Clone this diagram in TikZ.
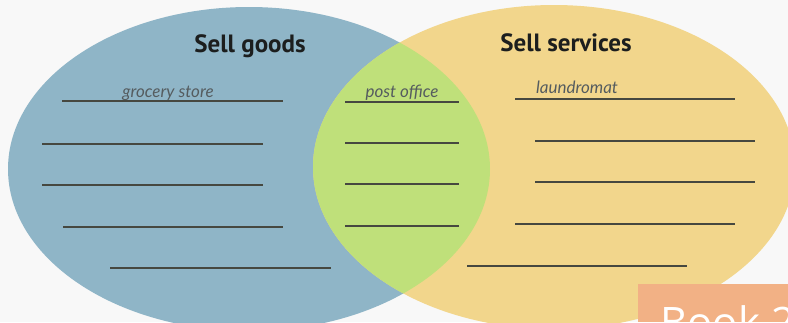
\documentclass[tikz,border=0pt]{standalone}
\usepackage{fontspec}
\setmainfont{Liberation Sans}
\newfontfamily\titlefont{PT Sans}
\newfontfamily\handfont{Lato}
\newfontfamily\bookfont{Open Sans}
\definecolor{bgc}{RGB}{248,248,248}
\definecolor{bluec}{RGB}{143,181,199}
\definecolor{yellowc}{RGB}{242,214,140}
\definecolor{greenc}{RGB}{191,224,122}
\definecolor{linec}{RGB}{70,72,64}
\definecolor{handc}{RGB}{85,92,95}
\definecolor{titlec}{RGB}{28,30,30}
\definecolor{orangec}{RGB}{242,177,133}
\tikzset{
  writeline/.style={draw=linec, line width=1.3pt},
  titletext/.style={font=\titlefont\bfseries\fontsize{25}{25}\selectfont, text=titlec, anchor=base, inner sep=0pt},
  handtext/.style={font=\handfont\itshape\fontsize{17}{17}\selectfont, text=handc, anchor=base, inner sep=0pt},
}
\begin{document}
\begin{tikzpicture}[x=1pt,y=-1pt]
\useasboundingbox (0,0) rectangle (788,322);
\begin{scope}
\clip (0,0) rectangle (788,322);
\fill[bgc] (0,0) rectangle (788,322);
% circles
\fill[bluec] (249,169) ellipse [x radius=241pt, y radius=162pt];
\fill[yellowc] (554,167) ellipse [x radius=241pt, y radius=162pt];
\begin{scope}
\clip (249,169) ellipse [x radius=241pt, y radius=162pt];
\fill[greenc] (554,167) ellipse [x radius=241pt, y radius=162pt];
\end{scope}
% titles
\node[titletext] (goods) at (250,52) {Sell goods};
\node[titletext] (services) at (566,51) {Sell services};
% handwritten labels
\node[handtext] (grocery) at (168,97) {grocery store};
\node[handtext] (post) at (402,97) {post office};
\node[handtext] (laundry) at (577,93) {laundromat};
% left lines
\draw[writeline] (62,101) -- (283,101);
\draw[writeline] (42,144) -- (263,144);
\draw[writeline] (42,185) -- (263,185);
\draw[writeline] (63,227) -- (283,227);
\draw[writeline] (110,268) -- (331,268);
% middle lines
\draw[writeline] (345,102) -- (459,102);
\draw[writeline] (345,143) -- (459,143);
\draw[writeline] (345,184) -- (459,184);
\draw[writeline] (345,226) -- (459,226);
% right lines
\draw[writeline] (515,99) -- (735,99);
\draw[writeline] (535,141) -- (755,141);
\draw[writeline] (535,182) -- (755,182);
\draw[writeline] (515,224) -- (735,224);
\draw[writeline] (467,266) -- (687,266);
% book box
\fill[orangec] (638,284) rectangle (788,322);
\node[font=\bookfont\fontsize{42}{42}\selectfont, text=white, anchor=base west, inner sep=0pt] (book) at (660,337) {Book 2};
\end{scope}
\end{tikzpicture}
\end{document}
